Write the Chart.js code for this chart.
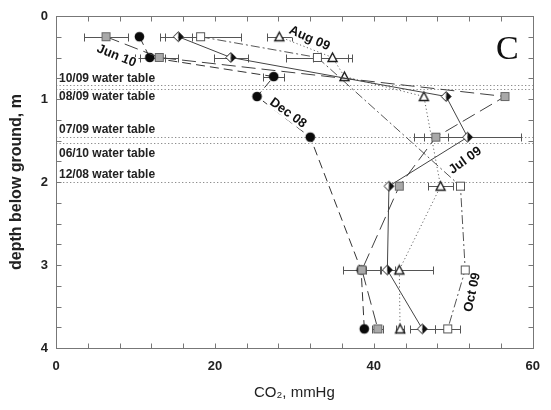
<!DOCTYPE html>
<html>
<head>
<meta charset="utf-8">
<script src="https://cdn.jsdelivr.net/npm/chart.js@4.4.1/dist/chart.umd.min.js"></script>
<style>
  html, body { margin: 0; padding: 0; background: #fff; }
</style>
</head>
<body>
<canvas id="co2Chart" width="551" height="410"></canvas>
<script>
// soil gas CO2 profiles, one per sampling campaign (depth in m, CO2 in mmHg, +/- error)
const jun10Depth = [0.25, 0.5, 0.97, 1.46, 2.05, 3.06, 3.77];
const jun10Co2   = [6.3, 13.0, 56.5, 47.8, 43.2, 38.5, 40.5];
const jun10Err   = [2.8, 2.4, 0, 1.5, 0, 2.4, 0.7];

const dec08Depth = [0.25, 0.5, 0.73, 0.97, 1.46, 3.06, 3.77];
const dec08Co2   = [10.5, 11.8, 27.4, 25.3, 32.0, 38.4, 38.8];
const dec08Err   = [0, 1.9, 1.3, 0, 0, 0, 0];

const jul09Depth = [0.25, 0.5, 0.97, 1.46, 2.05, 3.06, 3.77];
const jul09Co2   = [15.4, 22.0, 49.1, 51.8, 41.9, 41.7, 46.1];
const jul09Err   = [1.7, 2.1, 0, 6.7, 0, 0.9, 1.6];

const aug09Depth = [0.25, 0.5, 0.73, 0.97, 2.05, 3.06, 3.77];
const aug09Co2   = [28.1, 34.8, 36.3, 46.3, 48.4, 43.2, 43.3];
const aug09Err   = [1.6, 2.4, 0, 0, 1.6, 4.2, 0.5];

const oct09Depth = [0.25, 0.5, 2.05, 3.06, 3.77];
const oct09Co2   = [18.2, 32.9, 50.9, 51.5, 49.3];
const oct09Err   = [5.1, 3.9, 0.5, 0.3, 1.6];

// water table depth on each campaign date
const waterTableDates = ['10/09', '08/09', '07/09', '06/10', '12/08'];
const waterTableDepth = [0.835, 0.875, 1.46, 1.525, 2.0];

const xTickLabels = [0, 20, 40, 60];
const yTickLabels = [0, 1, 2, 3, 4];

const FONT = '"Liberation Sans", Arial, sans-serif';

// label placement (data units) and text offsets
const wtLabelOffset = [-7, 8, -7, 11, -7];
const seriesLabels = [
  { text: 'Jun 10', x: 7.6,  y: 0.48, rot: 22 },
  { text: 'Dec 08', x: 29.2, y: 1.17, rot: 36 },
  { text: 'Jul 09', x: 51.5, y: 1.74, rot: -36 },
  { text: 'Aug 09', x: 31.9, y: 0.27, rot: 24 },
  { text: 'Oct 09', x: 52.4, y: 3.33, rot: -78 }
];

function marker(kind) {
  const c = document.createElement('canvas');
  c.width = 13; c.height = 13;
  const g = c.getContext('2d');
  g.lineWidth = 1;
  if (kind === 'dot') {
    g.fillStyle = '#0a0a0a';
    g.beginPath(); g.arc(6.5, 6.5, 4.8, 0, Math.PI * 2); g.fill();
  } else if (kind === 'graySquare') {
    g.fillStyle = '#a9a9a9'; g.strokeStyle = '#666';
    g.fillRect(2.5, 2.5, 8, 8); g.strokeRect(2.5, 2.5, 8, 8);
  } else if (kind === 'openSquare') {
    g.fillStyle = '#fff'; g.strokeStyle = '#555';
    g.fillRect(2.5, 2.5, 8, 8); g.strokeRect(2.5, 2.5, 8, 8);
  } else if (kind === 'triangle') {
    g.fillStyle = '#fff'; g.strokeStyle = '#1a1a1a'; g.lineWidth = 1.4;
    g.beginPath(); g.moveTo(6.5, 2); g.lineTo(11, 10.5); g.lineTo(2, 10.5); g.closePath();
    g.fill(); g.stroke();
  } else if (kind === 'diamond') {
    g.fillStyle = '#fff';
    g.beginPath(); g.moveTo(6.5, 1.5); g.lineTo(6.5, 11.5); g.lineTo(1.5, 6.5); g.closePath(); g.fill();
    g.fillStyle = '#111';
    g.beginPath(); g.moveTo(6.5, 1.5); g.lineTo(11.5, 6.5); g.lineTo(6.5, 11.5); g.closePath(); g.fill();
    g.strokeStyle = '#222';
    g.beginPath(); g.moveTo(6.5, 1.5); g.lineTo(11.5, 6.5); g.lineTo(6.5, 11.5); g.lineTo(1.5, 6.5); g.closePath(); g.stroke();
  }
  return c;
}

function points(depths, vals) {
  return depths.map((d, i) => ({ x: vals[i], y: d }));
}

function series(depths, vals, errs, kind, dash, color) {
  return {
    data: points(depths, vals),
    xErr: errs,
    showLine: true,
    borderColor: color,
    borderWidth: 1,
    borderDash: dash,
    pointStyle: marker(kind),
    pointRadius: 5,
    pointHoverRadius: 5,
    fill: false,
    tension: 0
  };
}

const decor = {
  id: 'decor',
  beforeDatasetsDraw(chart) {
    const { ctx, chartArea: a, scales: { x, y } } = chart;
    ctx.save();
    // water table lines
    ctx.strokeStyle = '#8c8c8c';
    ctx.lineWidth = 1;
    ctx.setLineDash([1.3, 2.2]);
    waterTableDepth.forEach(d => {
      const py = Math.round(y.getPixelForValue(d)) + 0.5;
      ctx.beginPath(); ctx.moveTo(a.left, py); ctx.lineTo(a.right, py); ctx.stroke();
    });
    ctx.setLineDash([]);
    // horizontal error bars
    ctx.strokeStyle = '#555';
    chart.data.datasets.forEach(ds => {
      ds.data.forEach((p, i) => {
        const e = ds.xErr[i];
        if (!e) return;
        const py = Math.round(y.getPixelForValue(p.y)) + 0.5;
        const x0 = Math.round(x.getPixelForValue(p.x - e)) + 0.5;
        const x1 = Math.round(x.getPixelForValue(p.x + e)) + 0.5;
        ctx.beginPath();
        ctx.moveTo(x0, py); ctx.lineTo(x1, py);
        ctx.moveTo(x0, py - 4); ctx.lineTo(x0, py + 4);
        ctx.moveTo(x1, py - 4); ctx.lineTo(x1, py + 4);
        ctx.stroke();
      });
    });
    ctx.restore();
  },
  afterDatasetsDraw(chart) {
    const { ctx, chartArea: a, scales: { x, y } } = chart;
    ctx.save();
    // frame and inside ticks
    ctx.strokeStyle = '#777';
    ctx.lineWidth = 1;
    const L = Math.round(a.left) + 0.5, R = Math.round(a.right) + 0.5;
    const T = Math.round(a.top) + 0.5, B = Math.round(a.bottom) + 0.5;
    ctx.strokeRect(L, T, R - L, B - T);
    ctx.beginPath();
    for (let v = 4; v < 60; v += 4) {
      const px = Math.round(x.getPixelForValue(v)) + 0.5;
      ctx.moveTo(px, B); ctx.lineTo(px, B - 5);
      ctx.moveTo(px, T); ctx.lineTo(px, T + 5);
    }
    for (let v = 0.25; v < 4; v += 0.25) {
      const py = Math.round(y.getPixelForValue(v)) + 0.5;
      ctx.moveTo(L, py); ctx.lineTo(L + 5, py);
      ctx.moveTo(R, py); ctx.lineTo(R - 5, py);
    }
    ctx.stroke();

    // water table labels
    ctx.fillStyle = '#222';
    ctx.font = 'bold 12px ' + FONT;
    ctx.textBaseline = 'middle';
    ctx.textAlign = 'left';
    waterTableDates.forEach((d, i) => {
      const py = y.getPixelForValue(waterTableDepth[i]) + wtLabelOffset[i];
      ctx.fillText(d + ' water table', a.left + 3, py);
    });

    // campaign labels along their profiles
    ctx.font = 'bold 13px ' + FONT;
    ctx.textAlign = 'center';
    seriesLabels.forEach(s => {
      ctx.save();
      ctx.translate(x.getPixelForValue(s.x), y.getPixelForValue(s.y));
      ctx.rotate(s.rot * Math.PI / 180);
      ctx.fillStyle = '#fff';
      const w = ctx.measureText(s.text).width;
      ctx.fillRect(-w / 2 - 1, -6, w + 2, 12);
      ctx.fillStyle = '#111';
      ctx.fillText(s.text, 0, 0);
      ctx.restore();
    });

    // panel letter
    ctx.font = '34px "Liberation Serif", "Times New Roman", serif';
    ctx.fillStyle = '#111';
    ctx.fillText('C', x.getPixelForValue(56.8), y.getPixelForValue(0.41));
    ctx.restore();
  }
};

new Chart(document.getElementById('co2Chart').getContext('2d'), {
  type: 'scatter',
  data: {
    datasets: [
      series(jun10Depth, jun10Co2, jun10Err, 'graySquare', [14, 6], '#404040'),
      series(dec08Depth, dec08Co2, dec08Err, 'dot', [9, 5], '#333'),
      series(jul09Depth, jul09Co2, jul09Err, 'diamond', [], '#444'),
      series(aug09Depth, aug09Co2, aug09Err, 'triangle', [1.2, 2.5], '#666'),
      series(oct09Depth, oct09Co2, oct09Err, 'openSquare', [9, 3, 2, 3], '#555')
    ]
  },
  options: {
    responsive: false,
    animation: false,
    layout: { padding: { top: 16, right: 8, left: 0, bottom: 0 } },
    plugins: { legend: { display: false }, tooltip: { enabled: false } },
    scales: {
      x: {
        type: 'linear', min: 0, max: 60,
        afterBuildTicks: s => { s.ticks = xTickLabels.map(v => ({ value: v })); },
        ticks: { color: '#222', font: { family: FONT, size: 13, weight: 'bold' }, padding: 11, maxRotation: 0 },
        grid: { display: false, drawTicks: false },
        border: { display: false },
        title: { display: true, text: 'CO₂, mmHg', color: '#222', font: { family: FONT, size: 15 }, padding: { top: 8, bottom: 8 } },
        afterFit: s => { s.height = 62; }
      },
      y: {
        type: 'linear', min: 0, max: 4, reverse: true,
        afterBuildTicks: s => { s.ticks = yTickLabels.map(v => ({ value: v })); },
        ticks: { color: '#222', font: { family: FONT, size: 13, weight: 'bold' }, padding: 8 },
        grid: { display: false, drawTicks: false },
        border: { display: false },
        title: { display: true, text: 'depth below ground, m', color: '#222', font: { family: FONT, size: 16, weight: 'bold' }, padding: { top: 7, bottom: 7 } },
        afterFit: s => { s.width = 56; }
      }
    }
  },
  plugins: [decor]
});
</script>
</body>
</html>
